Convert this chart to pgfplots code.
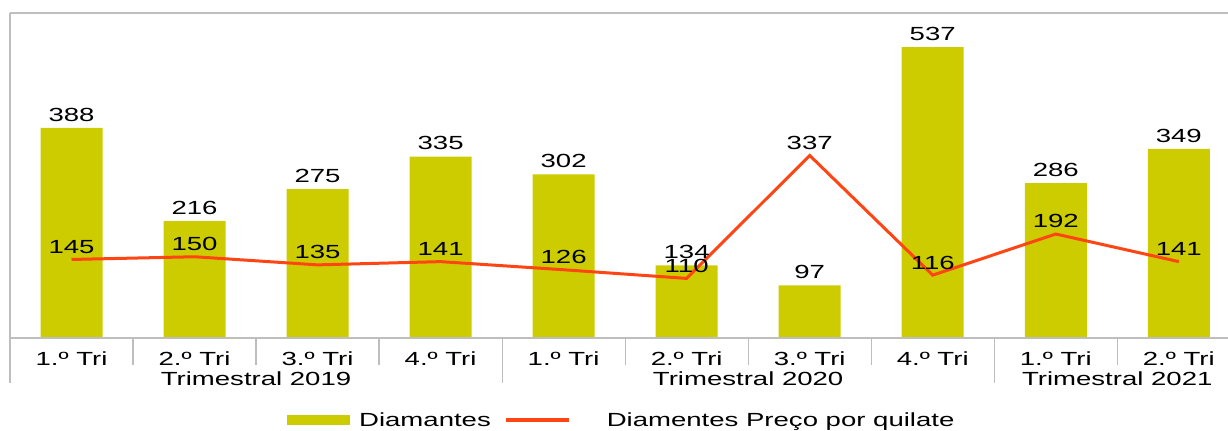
\documentclass[border=0pt]{standalone}
\usepackage{fontspec}
\setmainfont[FakeStretch=1.45]{Liberation Sans}
\usepackage{pgfplots}
\pgfplotsset{compat=1.18}
\definecolor{barc}{RGB}{204,204,0}
\definecolor{linec}{RGB}{255,69,20}
\definecolor{framec}{RGB}{190,190,190}
\begin{document}
\begin{tikzpicture}[font=\fontsize{19bp}{23bp}\selectfont]
\begin{axis}[
  scale only axis, width=1218bp, height=325bp,
  xmin=-0.5, xmax=9.4, ymin=0, ymax=600,
  clip=false,
  axis line style={draw=none},
  ytick=\empty,
  xtick={0,...,9},
  xticklabels={1.º Tri,2.º Tri,3.º Tri,4.º Tri,1.º Tri,2.º Tri,3.º Tri,4.º Tri,1.º Tri,2.º Tri},
  major tick length=0pt,
  xticklabel style={anchor=center, yshift=-21bp},
  /pgf/number format/assume math mode=true,
  every node near coord/.append style={text=black},
  legend style={at={(0.2274,-0.2523)}, anchor=west, draw=none, fill=none, inner sep=0pt,
    /tikz/every even column/.append style={column sep=12bp}},
  legend columns=2,
]
\addplot[ybar, bar width=62bp, fill=barc, draw=none, nodes near coords,
  every node near coord/.append style={yshift=3bp},
  legend image code/.code={\fill[barc] (0bp,-4.5bp) rectangle (63bp,4.5bp);}]
  coordinates {(0,388) (1,216) (2,275) (3,335) (4,302) (5,134) (6,97) (7,537) (8,286) (9,349)};
\addlegendentry{\hspace{7bp}Diamantes}
\addplot[linec, line width=3bp, mark=none, nodes near coords,
  every node near coord/.append style={yshift=1bp},
  legend image code/.code={\draw[linec, line width=3bp] (0bp,0bp) -- (63bp,0bp);}]
  coordinates {(0,145) (1,150) (2,135) (3,141) (4,126) (5,110) (6,337) (7,116) (8,192) (9,141)};
\addlegendentry{\hspace{34bp}Diamentes Preço por quilate}
\draw[framec, line width=1.2bp] (rel axis cs:0,1) -- (rel axis cs:1,1);
\draw[framec, line width=1.2bp] (rel axis cs:0,0) -- (rel axis cs:1,0);
\draw[framec, line width=1.2bp] (rel axis cs:0,1) -- ([yshift=-45bp]rel axis cs:0,0);
\pgfplotsinvokeforeach{0.5,1.5,2.5,4.5,5.5,6.5,8.5}{
  \draw[framec, line width=1.2bp] (axis cs:#1,0) -- ([yshift=-27bp]axis cs:#1,0);
}
\pgfplotsinvokeforeach{3.5,7.5}{
  \draw[framec, line width=1.2bp] (axis cs:#1,0) -- ([yshift=-45bp]axis cs:#1,0);
}
\node at (axis cs:1.5,0) [yshift=-41bp] {Trimestral 2019};
\node at (axis cs:5.5,0) [yshift=-41bp] {Trimestral 2020};
\node at (axis cs:8.5,0) [yshift=-41bp] {Trimestral 2021};
\end{axis}
\pgfresetboundingbox
\path[use as bounding box] (-10bp,-93bp) rectangle (1218bp,338bp);
\end{tikzpicture}
\end{document}
